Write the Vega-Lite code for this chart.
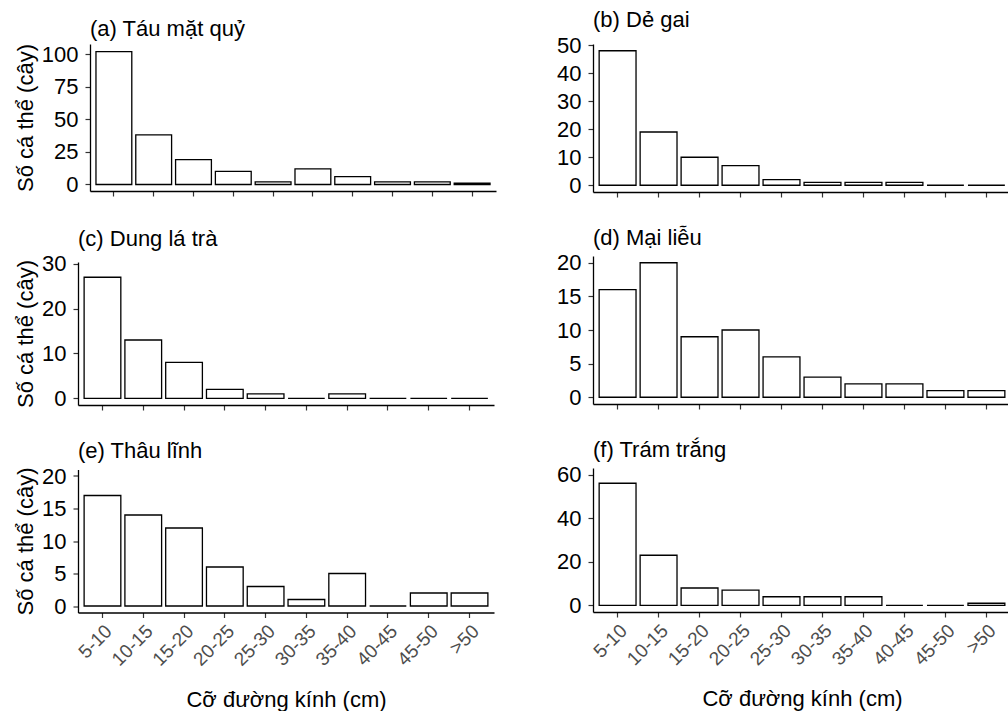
{
  "$schema": "https://vega.github.io/schema/vega-lite/v6.json",
  "background": "white",
  "padding": {"top": 9, "left": 13, "right": 0, "bottom": 0},
  "data": {"values": [
    {"panel": "a", "class": "5-10", "count": 102},
    {"panel": "a", "class": "10-15", "count": 38},
    {"panel": "a", "class": "15-20", "count": 19},
    {"panel": "a", "class": "20-25", "count": 10},
    {"panel": "a", "class": "25-30", "count": 2},
    {"panel": "a", "class": "30-35", "count": 12},
    {"panel": "a", "class": "35-40", "count": 6},
    {"panel": "a", "class": "40-45", "count": 2},
    {"panel": "a", "class": "45-50", "count": 2},
    {"panel": "a", "class": ">50", "count": 1},
    {"panel": "b", "class": "5-10", "count": 48},
    {"panel": "b", "class": "10-15", "count": 19},
    {"panel": "b", "class": "15-20", "count": 10},
    {"panel": "b", "class": "20-25", "count": 7},
    {"panel": "b", "class": "25-30", "count": 2},
    {"panel": "b", "class": "30-35", "count": 1},
    {"panel": "b", "class": "35-40", "count": 1},
    {"panel": "b", "class": "40-45", "count": 1},
    {"panel": "b", "class": "45-50", "count": 0},
    {"panel": "b", "class": ">50", "count": 0},
    {"panel": "c", "class": "5-10", "count": 27},
    {"panel": "c", "class": "10-15", "count": 13},
    {"panel": "c", "class": "15-20", "count": 8},
    {"panel": "c", "class": "20-25", "count": 2},
    {"panel": "c", "class": "25-30", "count": 1},
    {"panel": "c", "class": "30-35", "count": 0},
    {"panel": "c", "class": "35-40", "count": 1},
    {"panel": "c", "class": "40-45", "count": 0},
    {"panel": "c", "class": "45-50", "count": 0},
    {"panel": "c", "class": ">50", "count": 0},
    {"panel": "d", "class": "5-10", "count": 16},
    {"panel": "d", "class": "10-15", "count": 20},
    {"panel": "d", "class": "15-20", "count": 9},
    {"panel": "d", "class": "20-25", "count": 10},
    {"panel": "d", "class": "25-30", "count": 6},
    {"panel": "d", "class": "30-35", "count": 3},
    {"panel": "d", "class": "35-40", "count": 2},
    {"panel": "d", "class": "40-45", "count": 2},
    {"panel": "d", "class": "45-50", "count": 1},
    {"panel": "d", "class": ">50", "count": 1},
    {"panel": "e", "class": "5-10", "count": 17},
    {"panel": "e", "class": "10-15", "count": 14},
    {"panel": "e", "class": "15-20", "count": 12},
    {"panel": "e", "class": "20-25", "count": 6},
    {"panel": "e", "class": "25-30", "count": 3},
    {"panel": "e", "class": "30-35", "count": 1},
    {"panel": "e", "class": "35-40", "count": 5},
    {"panel": "e", "class": "40-45", "count": 0},
    {"panel": "e", "class": "45-50", "count": 2},
    {"panel": "e", "class": ">50", "count": 2},
    {"panel": "f", "class": "5-10", "count": 56},
    {"panel": "f", "class": "10-15", "count": 23},
    {"panel": "f", "class": "15-20", "count": 8},
    {"panel": "f", "class": "20-25", "count": 7},
    {"panel": "f", "class": "25-30", "count": 4},
    {"panel": "f", "class": "30-35", "count": 4},
    {"panel": "f", "class": "35-40", "count": 4},
    {"panel": "f", "class": "40-45", "count": 0},
    {"panel": "f", "class": "45-50", "count": 0},
    {"panel": "f", "class": ">50", "count": 1}
  ]},
  "config": {
    "font": "Liberation Sans",
    "view": {"stroke": null},
    "axis": {
      "grid": false,
      "domainColor": "black",
      "domainWidth": 1.3,
      "tickColor": "#333333",
      "tickWidth": 1.2,
      "tickSize": 5,
      "labelFont": "Liberation Sans",
      "labelFontSize": 22,
      "labelColor": "black",
      "labelPadding": 7,
      "titleFont": "Liberation Sans",
      "titleFontSize": 22,
      "titleFontWeight": "normal",
      "titleColor": "black"
    },
    "axisY": {"titlePadding": 4},
    "axisX": {"labelAngle": -45, "labelAlign": "right", "labelBaseline": "top", "labelColor": "#4d4d4d", "labelFontSize": 19, "labelPadding": 4, "titlePadding": 20},
    "title": {"anchor": "start", "frame": "group", "fontSize": 22, "fontWeight": "normal", "color": "black", "font": "Liberation Sans", "baseline": "bottom", "offset": 2},
    "bar": {"fill": "white", "stroke": "black", "strokeWidth": 1.3}
  },
  "spacing": 60,
  "hconcat": [
    {
      "spacing": 30,
      "vconcat": [
        {
          "spacing": 0,
          "hconcat": [
            {"width": 1, "height": 1, "data": {"values": []}, "mark": {"type": "point", "opacity": 0}},
            {
              "title": "(a) Táu mặt quỷ",
              "width": 406, "height": 147,
              "transform": [{"filter": "datum.panel == 'a'"}],
              "mark": {"type": "bar"},
              "encoding": {
                "x": {"field": "class", "type": "ordinal", "sort": ["5-10","10-15","15-20","20-25","25-30","30-35","35-40","40-45","45-50",">50"], "scale": {"paddingInner": 0.1, "paddingOuter": 0.15}, "axis": {"labels": false, "title": null}},
                "y": {"field": "count", "type": "quantitative", "scale": {"domain": [-5, 107.8], "nice": false, "zero": false}, "axis": {"values": [0, 25, 50, 75, 100], "title": "Số cá thể (cây)"}},
                "y2": {"datum": 0}
              }
            }
          ]
        },
        {
          "spacing": 28.5,
          "vconcat": [
            {
              "spacing": 0,
              "hconcat": [
                {"width": 1, "height": 1, "data": {"values": []}, "mark": {"type": "point", "opacity": 0}},
                {
                  "title": "(c) Dung lá trà",
                  "width": 416, "height": 143,
                  "transform": [{"filter": "datum.panel == 'c'"}],
                  "mark": {"type": "bar"},
                  "encoding": {
                    "x": {"field": "class", "type": "ordinal", "sort": ["5-10","10-15","15-20","20-25","25-30","30-35","35-40","40-45","45-50",">50"], "scale": {"paddingInner": 0.1, "paddingOuter": 0.15}, "axis": {"labels": false, "title": null}},
                    "y": {"field": "count", "type": "quantitative", "scale": {"domain": [-1.5, 30.4], "nice": false, "zero": false}, "axis": {"values": [0, 10, 20, 30], "title": "Số cá thể (cây)"}},
                    "y2": {"datum": 0}
                  }
                }
              ]
            },
            {
              "spacing": 0,
              "hconcat": [
                {"width": 1, "height": 1, "data": {"values": []}, "mark": {"type": "point", "opacity": 0}},
                {
                  "title": "(e) Thâu lĩnh",
                  "width": 416, "height": 143,
                  "transform": [{"filter": "datum.panel == 'e'"}],
                  "mark": {"type": "bar"},
                  "encoding": {
                    "x": {"field": "class", "type": "ordinal", "sort": ["5-10","10-15","15-20","20-25","25-30","30-35","35-40","40-45","45-50",">50"], "scale": {"paddingInner": 0.1, "paddingOuter": 0.15}, "axis": {"title": "Cỡ đường kính (cm)"}},
                    "y": {"field": "count", "type": "quantitative", "scale": {"domain": [-1, 21], "nice": false, "zero": false}, "axis": {"values": [0, 5, 10, 15, 20], "title": "Số cá thể (cây)"}},
                    "y2": {"datum": 0}
                  }
                }
              ]
            }
          ]
        }
      ]
    },
    {
      "spacing": 28,
      "vconcat": [
        {
          "title": "(b) Dẻ gai",
          "width": 418, "height": 148,
          "transform": [{"filter": "datum.panel == 'b'"}],
          "mark": {"type": "bar"},
          "encoding": {
            "x": {"field": "class", "type": "ordinal", "sort": ["5-10","10-15","15-20","20-25","25-30","30-35","35-40","40-45","45-50",">50"], "scale": {"paddingInner": 0.1, "paddingOuter": 0.15}, "axis": {"labels": false, "title": null}},
            "y": {"field": "count", "type": "quantitative", "scale": {"domain": [-2.4, 50.4], "nice": false, "zero": false}, "axis": {"values": [0, 10, 20, 30, 40, 50], "title": null}},
            "y2": {"datum": 0}
          }
        },
        {
          "title": "(d) Mại liễu",
          "width": 418, "height": 148,
          "transform": [{"filter": "datum.panel == 'd'"}],
          "mark": {"type": "bar"},
          "encoding": {
            "x": {"field": "class", "type": "ordinal", "sort": ["5-10","10-15","15-20","20-25","25-30","30-35","35-40","40-45","45-50",">50"], "scale": {"paddingInner": 0.1, "paddingOuter": 0.15}, "axis": {"labels": false, "title": null}},
            "y": {"field": "count", "type": "quantitative", "scale": {"domain": [-1, 21], "nice": false, "zero": false}, "axis": {"values": [0, 5, 10, 15, 20], "title": null}},
            "y2": {"datum": 0}
          }
        },
        {
          "title": "(f) Trám trắng",
          "width": 418, "height": 144,
          "transform": [{"filter": "datum.panel == 'f'"}],
          "mark": {"type": "bar"},
          "encoding": {
            "x": {"field": "class", "type": "ordinal", "sort": ["5-10","10-15","15-20","20-25","25-30","30-35","35-40","40-45","45-50",">50"], "scale": {"paddingInner": 0.1, "paddingOuter": 0.15}, "axis": {"title": "Cỡ đường kính (cm)"}},
            "y": {"field": "count", "type": "quantitative", "scale": {"domain": [-3, 63], "nice": false, "zero": false}, "axis": {"values": [0, 20, 40, 60], "title": null}},
            "y2": {"datum": 0}
          }
        }
      ]
    }
  ]
}
